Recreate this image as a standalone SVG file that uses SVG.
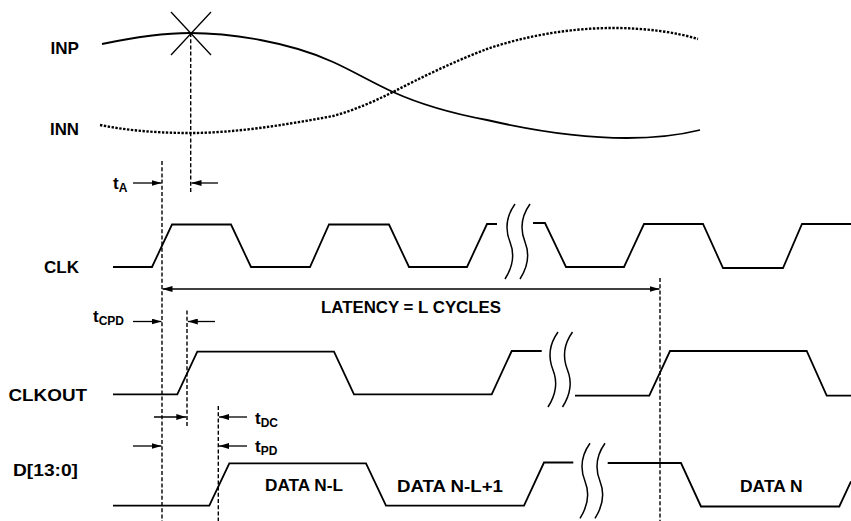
<svg xmlns="http://www.w3.org/2000/svg" width="851" height="521" viewBox="0 0 851 521">
<style>
.w{fill:none;stroke:#000;stroke-width:1.8;stroke-linejoin:miter}
.dot{fill:none;stroke:#000;stroke-width:2.4;stroke-dasharray:2.4,1.5}
.ds{fill:none;stroke:#000;stroke-width:1.4;stroke-dasharray:4,2.2}
.ar{fill:none;stroke:#000;stroke-width:1.3}
.br{fill:none;stroke:#000;stroke-width:1.5}
text{font-family:"Liberation Sans",Arial,sans-serif;font-weight:bold;font-size:17px;fill:#000}
.sub{font-size:12px}
</style>
<defs>
<marker id="ah" viewBox="0 0 10 6" refX="10" refY="3" markerWidth="10" markerHeight="6" markerUnits="userSpaceOnUse" orient="auto-start-reverse"><path d="M0,0 L10,3 L0,6 z" fill="#000"/></marker>
<path id="brk" d="M0,0 C-10,14 -9,28 -5,38 C-1,48 -1,61 -10,75"/>
</defs>

<g id="inp">
<text x="50.5" y="54" textLength="28.5" lengthAdjust="spacingAndGlyphs">INP</text>
<path class="w" d="M102,44 C140,36 165,33 190,33 C230,33 290,42 333,62 C353,71 373,83 393,92 C424,106 455,114 487,120 C535,131 580,138 627,138 C660,138 680,135 700,130"/>
<path class="ar" d="M171,12 L211,55 M211,12 L171,55"/>
</g>

<g id="inn">
<text x="50" y="135" textLength="29" lengthAdjust="spacingAndGlyphs">INN</text>
<path class="dot" d="M100,125 C130,131 160,133 190,133 C235,133 285,125 333,116 C355,110 375,101 393,92 C420,78 455,61 487,49 C525,36 570,28 613,28 C645,28 675,32 698,39"/>
</g>

<g id="clk">
<text x="44" y="272.5" textLength="35" lengthAdjust="spacingAndGlyphs">CLK</text>
<path class="w" d="M113,267 L152,267 L172,224.5 L231,224.5 L251,267 L310,267 L329,224.5 L389,224.5 L409,267 L467,267 L487,224 L497,224"/>
<path class="w" d="M533,223 L545,223 L566,267 L624,267 L644,224 L703,224 L723,268 L783,268 L802,224 L851,224"/>
<use href="#brk" class="br" x="515" y="204"/>
<use href="#brk" class="br" x="530" y="204"/>
</g>

<g id="clkout">
<text x="8.5" y="400.7" textLength="78.5" lengthAdjust="spacingAndGlyphs">CLKOUT</text>
<path class="w" d="M113,394.3 L177.3,394.3 L197.3,351.7 L334,351.7 L354,394.3 L491.7,394.3 L511.7,351 L541.7,351"/>
<path class="w" d="M575,395.7 L649.3,395.7 L670,351 L806.7,351 L826.7,395.7 L851,395.7"/>
<use href="#brk" class="br" x="558" y="332"/>
<use href="#brk" class="br" x="572.5" y="332"/>
</g>

<g id="data">
<text x="13" y="476" textLength="65" lengthAdjust="spacingAndGlyphs">D[13:0]</text>
<path class="w" d="M113,505.7 L209.3,505.7 L229.3,463.3 L366,463.3 L386,505.7 L524,505.7 L544,462.5 L573.3,462.5"/>
<path class="w" d="M607.7,463 L681,463 L701,506.5 L839.3,506.5 L851,481.5"/>
<use href="#brk" class="br" x="590" y="443.3"/>
<use href="#brk" class="br" x="605" y="443.3"/>
<text x="265" y="491" textLength="78" lengthAdjust="spacingAndGlyphs">DATA N-L</text>
<text x="397" y="492" textLength="106" lengthAdjust="spacingAndGlyphs">DATA N-L+1</text>
<text x="740" y="492" textLength="62.7" lengthAdjust="spacingAndGlyphs">DATA N</text>
</g>

<g id="timing-labels">
<text x="113" y="189">t<tspan class="sub" dy="3">A</tspan></text>
<text x="93" y="321.7">t<tspan class="sub" dy="3">CPD</tspan></text>
<text x="255" y="423.5">t<tspan class="sub" dy="3">DC</tspan></text>
<text x="255" y="452">t<tspan class="sub" dy="3">PD</tspan></text>
<text x="321" y="313" textLength="180" lengthAdjust="spacingAndGlyphs">LATENCY = L CYCLES</text>
</g>

<g id="connectors">
<path class="ds" d="M162,161 L162,521"/>
<path class="ds" d="M190.7,33 L190.7,193"/>
<path class="ds" d="M187,310.5 L187,427"/>
<path class="ds" d="M218.3,406 L218.3,521"/>
<path class="ds" d="M660,278 L660,521"/>
<line class="ar" x1="133" y1="183" x2="161.5" y2="183" marker-end="url(#ah)"/>
<line class="ar" x1="218" y1="183" x2="191.5" y2="183" marker-end="url(#ah)"/>
<line class="ar" x1="162.5" y1="289" x2="659.5" y2="289" marker-start="url(#ah)" marker-end="url(#ah)"/>
<line class="ar" x1="133" y1="321.5" x2="161.5" y2="321.5" marker-end="url(#ah)"/>
<line class="ar" x1="215" y1="321.5" x2="187.8" y2="321.5" marker-end="url(#ah)"/>
<line class="ar" x1="154" y1="417" x2="186.3" y2="417" marker-end="url(#ah)"/>
<line class="ar" x1="247" y1="417" x2="219" y2="417" marker-end="url(#ah)"/>
<line class="ar" x1="133" y1="446" x2="161.5" y2="446" marker-end="url(#ah)"/>
<line class="ar" x1="247" y1="446" x2="219" y2="446" marker-end="url(#ah)"/>
</g>
</svg>
